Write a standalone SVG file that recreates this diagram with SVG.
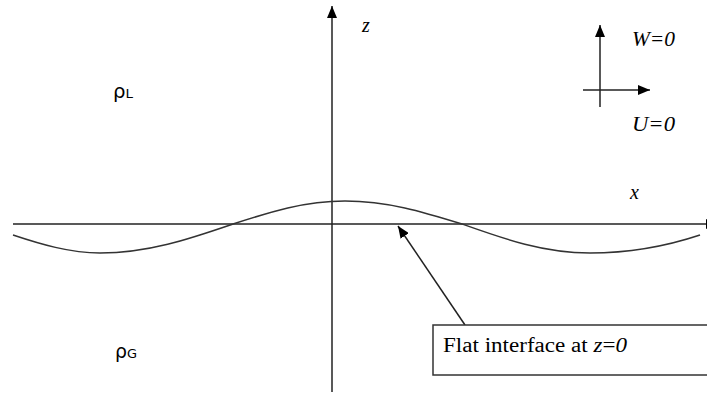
<svg xmlns="http://www.w3.org/2000/svg" width="707" height="394" viewBox="0 0 707 394">
<defs>
<marker id="arr" viewBox="0 0 12 10" refX="12" refY="5" markerWidth="12" markerHeight="10" markerUnits="userSpaceOnUse" orient="auto">
<path d="M0,0 L12,5 L0,10 z" fill="#000"/>
</marker>
<style>
.ln{stroke:#222;stroke-width:1.5;fill:none}
.wave{stroke:#333;stroke-width:1.5;fill:none}
.it{font-family:"Liberation Serif","Times New Roman",serif;font-style:italic;font-size:20px;fill:#000}
.rm{font-family:"Liberation Serif","Times New Roman",serif;font-size:20px;fill:#000}
.rho{font-family:"DejaVu Sans",Verdana,sans-serif;font-size:19px;fill:#000}
.sub{font-size:13px}
.box{fill:#fff;stroke:#333;stroke-width:1.5}
</style>
</defs>
<rect width="707" height="394" fill="#fff"/>
<g id="connectors">
<line class="ln" x1="13" y1="224" x2="718" y2="224" marker-end="url(#arr)"/>
<line class="ln" x1="332" y1="392" x2="332" y2="6" marker-end="url(#arr)"/>
<line class="ln" x1="600" y1="107" x2="600" y2="25" marker-end="url(#arr)"/>
<line class="ln" x1="583" y1="90" x2="650" y2="90" marker-end="url(#arr)"/>
<line class="ln" x1="465" y1="325" x2="398" y2="226" marker-end="url(#arr)"/>
</g>
<g id="interface-wave">
<path class="wave" d="M13,235 C40,244 70,253 100,253 C148.3,253 188.5,239.2 233,224 C270.4,211.9 304.3,201 345,201 C387.5,201 422.9,211.9 462,224 C504.8,239.2 543.5,253 590,253 C630,253 670,245 700,235"/>
</g>
<g id="label-z"><text class="it" x="362" y="32" font-size="18">z</text></g>
<g id="label-x"><text class="it" x="630" y="199">x</text></g>
<g id="label-W"><text class="it" x="632" y="46" textLength="43" lengthAdjust="spacingAndGlyphs">W=0</text></g>
<g id="label-U"><text class="it" x="632" y="131" textLength="43" lengthAdjust="spacingAndGlyphs">U=0</text></g>
<g id="rho-L"><text class="rho" x="113" y="98" textLength="20" lengthAdjust="spacingAndGlyphs">ρ<tspan class="sub">L</tspan></text></g>
<g id="rho-G"><text class="rho" x="115" y="358" textLength="22" lengthAdjust="spacingAndGlyphs">ρ<tspan class="sub">G</tspan></text></g>
<g id="callout">
<rect class="box" x="433" y="325" width="280" height="50"/>
<text class="rm" x="443" y="352" textLength="184" lengthAdjust="spacingAndGlyphs">Flat interface at <tspan class="it">z</tspan>=<tspan class="it">0</tspan></text>
</g>
</svg>
